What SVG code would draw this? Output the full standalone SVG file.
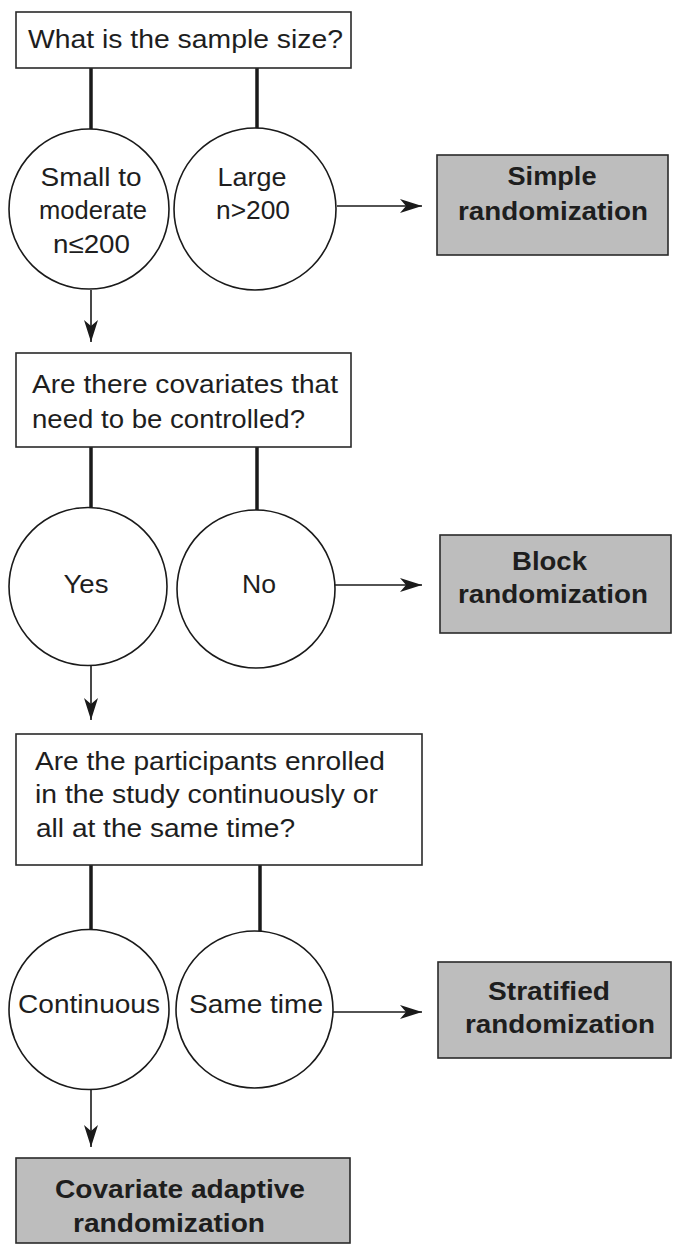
<svg xmlns="http://www.w3.org/2000/svg" width="673" height="1250" viewBox="0 0 673 1250">
<style>
.q{fill:#fff;stroke:#2a2a2a;stroke-width:1.6}
.r{fill:#bdbdbd;stroke:#2a2a2a;stroke-width:1.6}
.c{fill:#fff;stroke:#1a1a1a;stroke-width:1.6}
.t{font-family:"Liberation Sans",Arial,sans-serif;font-size:26px;fill:#1e1e1e}
.b{font-family:"Liberation Sans",Arial,sans-serif;font-size:26px;font-weight:bold;fill:#1e1e1e}
.m{text-anchor:middle}
.thick{stroke:#1a1a1a;stroke-width:3.5;fill:none}
.arr{stroke:#1a1a1a;stroke-width:1.6;fill:none;marker-end:url(#ah)}
</style>
<defs>
<marker id="ah" markerUnits="userSpaceOnUse" markerWidth="24" markerHeight="16" refX="22" refY="8" orient="auto">
<path d="M0,1 L22,8 L0,15 L6,8 Z" fill="#1a1a1a"/>
</marker>
</defs>
<g id="connectors">
<line class="thick" x1="91" y1="68" x2="91" y2="129"/>
<line class="thick" x1="257" y1="68" x2="257" y2="129"/>
<line class="arr" x1="337" y1="206" x2="422" y2="206"/>
<line class="arr" x1="91" y1="290" x2="91" y2="342"/>
<line class="thick" x1="91" y1="447" x2="91" y2="508"/>
<line class="thick" x1="257" y1="447" x2="257" y2="510"/>
<line class="arr" x1="335" y1="585" x2="422" y2="585"/>
<line class="arr" x1="91" y1="665" x2="91" y2="720"/>
<line class="thick" x1="91" y1="865" x2="91" y2="930"/>
<line class="thick" x1="260" y1="865" x2="260" y2="932"/>
<line class="arr" x1="333" y1="1012" x2="422" y2="1012"/>
<line class="arr" x1="91" y1="1089" x2="91" y2="1147"/>
</g>
<g id="q1">
<rect class="q" x="16" y="12" width="335" height="56"/>
<text class="t" x="28" y="48" textLength="315" lengthAdjust="spacingAndGlyphs">What is the sample size?</text>
</g>
<g id="small">
<circle class="c" cx="89" cy="209" r="80"/>
<text class="t m" x="91" y="186" textLength="101" lengthAdjust="spacingAndGlyphs">Small to</text>
<text class="t m" x="93" y="219" textLength="108" lengthAdjust="spacingAndGlyphs">moderate</text>
<text class="t m" x="91.5" y="253" textLength="77" lengthAdjust="spacingAndGlyphs">n≤200</text>
</g>
<g id="large">
<circle class="c" cx="255" cy="209" r="81"/>
<text class="t m" x="252" y="186" textLength="69" lengthAdjust="spacingAndGlyphs">Large</text>
<text class="t m" x="253" y="219" textLength="74" lengthAdjust="spacingAndGlyphs">n&gt;200</text>
</g>
<g id="simple">
<rect class="r" x="437" y="155" width="231" height="100"/>
<text class="b m" x="552" y="185" textLength="89" lengthAdjust="spacingAndGlyphs">Simple</text>
<text class="b m" x="553" y="220" textLength="190" lengthAdjust="spacingAndGlyphs">randomization</text>
</g>
<g id="q2">
<rect class="q" x="16" y="353" width="335" height="94"/>
<text class="t" x="32" y="393" textLength="306" lengthAdjust="spacingAndGlyphs">Are there covariates that</text>
<text class="t" x="32" y="428" textLength="273" lengthAdjust="spacingAndGlyphs">need to be controlled?</text>
</g>
<g id="yes">
<circle class="c" cx="88" cy="586.5" r="79"/>
<text class="t m" x="86" y="593" textLength="45" lengthAdjust="spacingAndGlyphs">Yes</text>
</g>
<g id="no">
<circle class="c" cx="256" cy="589" r="79"/>
<text class="t m" x="259" y="593" textLength="34" lengthAdjust="spacingAndGlyphs">No</text>
</g>
<g id="block">
<rect class="r" x="440" y="535" width="231" height="98"/>
<text class="b m" x="549.5" y="570" textLength="75" lengthAdjust="spacingAndGlyphs">Block</text>
<text class="b m" x="553" y="603" textLength="190" lengthAdjust="spacingAndGlyphs">randomization</text>
</g>
<g id="q3">
<rect class="q" x="16" y="734" width="406" height="131"/>
<text class="t" x="35" y="770" textLength="350" lengthAdjust="spacingAndGlyphs">Are the participants enrolled</text>
<text class="t" x="35" y="803" textLength="343" lengthAdjust="spacingAndGlyphs">in the study continuously or</text>
<text class="t" x="36" y="837" textLength="259" lengthAdjust="spacingAndGlyphs">all at the same time?</text>
</g>
<g id="continuous">
<circle class="c" cx="89" cy="1009.5" r="80"/>
<text class="t m" x="89" y="1013" textLength="142" lengthAdjust="spacingAndGlyphs">Continuous</text>
</g>
<g id="sametime">
<circle class="c" cx="254.5" cy="1009.5" r="78.5"/>
<text class="t m" x="256" y="1013" textLength="134" lengthAdjust="spacingAndGlyphs">Same time</text>
</g>
<g id="stratified">
<rect class="r" x="438" y="962" width="233" height="96"/>
<text class="b m" x="549" y="1000" textLength="122" lengthAdjust="spacingAndGlyphs">Stratified</text>
<text class="b m" x="560" y="1033" textLength="190" lengthAdjust="spacingAndGlyphs">randomization</text>
</g>
<g id="covariate">
<rect class="r" x="16" y="1158" width="334" height="85"/>
<text class="b m" x="180" y="1198" textLength="250" lengthAdjust="spacingAndGlyphs">Covariate adaptive</text>
<text class="b m" x="169" y="1232" textLength="192" lengthAdjust="spacingAndGlyphs">randomization</text>
</g>
</svg>
